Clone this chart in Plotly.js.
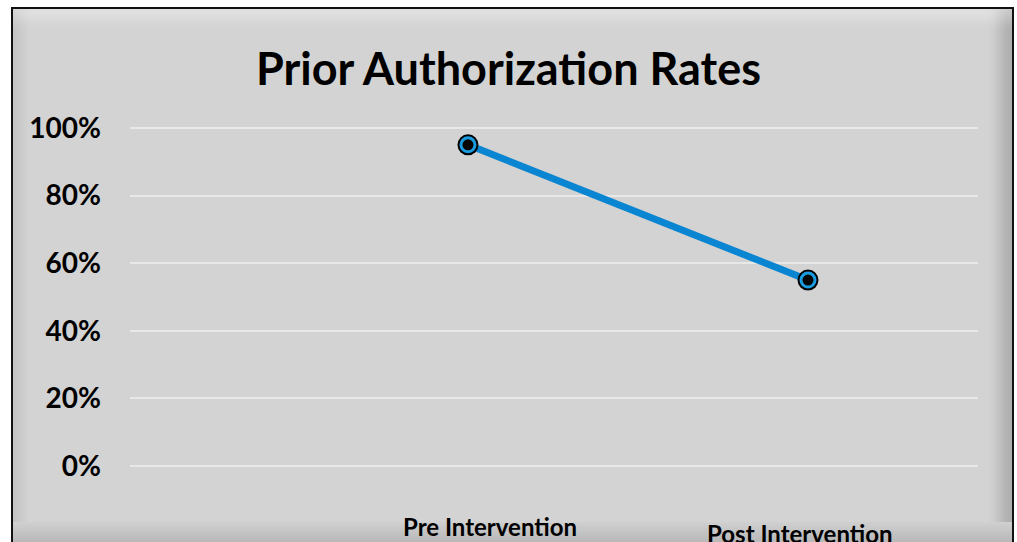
<!DOCTYPE html>
<html><head><meta charset="utf-8">
<script src="https://cdn.plot.ly/plotly-3.0.1.min.js"></script>
<style>
html,body{margin:0;padding:0;width:1017px;height:542px;overflow:hidden;background:#fff;}
#frame{position:absolute;left:11px;top:7px;width:999px;height:560px;border:2px solid #111;background:#d3d3d3;
box-shadow: inset 0 22px 14px -12px rgba(255,255,255,0.35), inset -22px 0 14px -10px rgba(0,0,0,0.18), inset 16px 0 12px -8px rgba(0,0,0,0.08);}
#bottom{position:absolute;left:13px;top:522px;width:999px;height:20px;background:linear-gradient(#d0d0d0,#b8b8b8);}
#chart{position:absolute;left:0;top:0;width:1017px;height:542px;}
</style></head><body>
<div id="frame"></div><div id="bottom"></div>
<div id="chart"></div>
<script>
const categories = ["Pre Intervention", "Post Intervention"];
const rates = [0.95, 0.55];
const tickValues = [0, 0.2, 0.4, 0.6, 0.8, 1.0];
const tickLabels = ["0%", "20%", "40%", "60%", "80%", "100%"];
const FONT = "Lato, 'Open Sans', sans-serif";

const xIdx = categories.map((c, i) => i);

const traces = [
  {x: xIdx, y: rates, mode: 'lines', line: {color: '#0a85d1', width: 7}, hoverinfo: 'skip', cliponaxis: false},
  {x: xIdx, y: rates, mode: 'markers', marker: {size: 21, color: '#000'}, cliponaxis: false, hoverinfo: 'skip'},
  {x: xIdx, y: rates, mode: 'markers', marker: {size: 14, color: '#050505', line: {color: '#1a9be0', width: 3}}, cliponaxis: false}
];

const annotations = categories.map((c, i) => ({
  x: i, xref: 'x', y: 0, yref: 'y', yshift: i === 0 ? -60 : -67,
  xshift: i === 0 ? 22 : -8,
  text: '<b>' + c + '</b>', showarrow: false,
  font: {family: FONT, size: 24, color: '#000'}, xanchor: 'center', yanchor: 'middle'
}));

const layout = {
  width: 1017, height: 542,
  paper_bgcolor: 'rgba(0,0,0,0)', plot_bgcolor: 'rgba(0,0,0,0)',
  margin: {l: 130, r: 39, t: 111, b: 59},
  showlegend: false,
  title: {text: '<b>Prior Authorization Rates</b>', x: 0.5, xanchor: 'center', y: 0.872, yanchor: 'middle',
    font: {family: FONT, size: 45, color: '#000'}},
  xaxis: {range: [-0.994, 1.5], showgrid: false, zeroline: false, showticklabels: false, showline: false, fixedrange: true},
  yaxis: {range: [-0.05, 1.05], tickvals: tickValues, ticktext: tickLabels, showgrid: true, gridcolor: '#e8e8e8', gridwidth: 2,
    zeroline: false, showline: false, ticks: '', ticklabelstandoff: 28,
    tickfont: {family: FONT, size: 28, color: '#000', weight: 'bold'}, fixedrange: true},
  annotations: annotations
};
Plotly.newPlot('chart', traces, layout, {displayModeBar: false, staticPlot: true});
</script>
</body></html>
